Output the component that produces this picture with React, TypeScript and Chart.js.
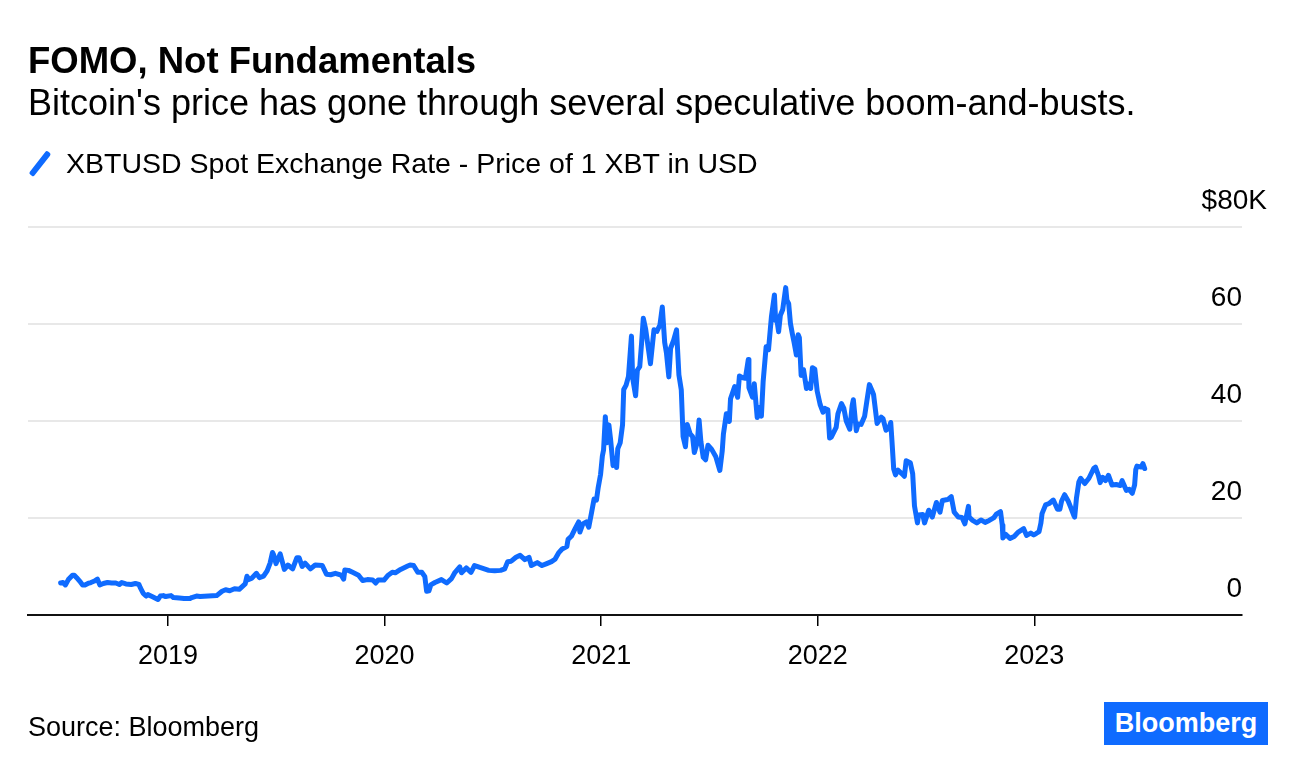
import React, { useEffect, useRef } from 'react';
import { Chart, registerables } from 'chart.js';

Chart.register(...registerables);

// Price of 1 XBT in USD, thousands — [month-day, value]
const prices2018: [string, number][] = [
  ['07-04', 6.6], ['07-08', 6.7], ['07-12', 6.2], ['07-17', 7.3], ['07-24', 8.2], ['07-27', 8.2],
  ['07-31', 7.7], ['08-05', 7.0], ['08-10', 6.2], ['08-14', 6.2], ['08-19', 6.5], ['08-24', 6.7],
  ['08-30', 7.0], ['09-04', 7.4], ['09-08', 6.2], ['09-14', 6.5], ['09-21', 6.7], ['09-28', 6.6],
  ['10-05', 6.6], ['10-11', 6.3], ['10-15', 6.7], ['10-22', 6.4], ['10-31', 6.3], ['11-07', 6.5],
  ['11-13', 6.3], ['11-15', 5.7], ['11-20', 4.5], ['11-25', 3.9], ['11-28', 4.2], ['12-05', 3.8],
  ['12-10', 3.5], ['12-15', 3.2], ['12-19', 3.9], ['12-24', 4.0], ['12-28', 3.8],
];

const prices2019: [string, number][] = [
  ['01-06', 4.0], ['01-10', 3.6], ['01-20', 3.5], ['01-28', 3.4], ['02-07', 3.4], ['02-10', 3.6],
  ['02-18', 3.9], ['02-24', 3.8], ['03-10', 3.9], ['03-24', 4.0], ['04-02', 4.9], ['04-08', 5.2],
  ['04-15', 5.0], ['04-23', 5.4], ['05-01', 5.3], ['05-11', 6.4], ['05-14', 8.0], ['05-17', 7.3],
  ['05-22', 7.6], ['05-30', 8.6], ['06-04', 7.7], ['06-11', 8.0], ['06-17', 9.1], ['06-22', 10.7],
  ['06-26', 12.9], ['06-28', 12.4], ['07-02', 10.6], ['07-09', 12.6], ['07-16', 9.4], ['07-22', 10.3],
  ['07-30', 9.5], ['08-06', 11.8], ['08-10', 11.8], ['08-15', 10.0], ['08-20', 10.7], ['08-29', 9.5],
  ['09-06', 10.3], ['09-18', 10.2], ['09-25', 8.4], ['10-02', 8.3], ['10-10', 8.6], ['10-20', 8.2],
  ['10-24', 7.4], ['10-26', 9.3], ['11-01', 9.2], ['11-08', 8.8], ['11-18', 8.2], ['11-25', 7.1],
  ['12-03', 7.3], ['12-12', 7.2], ['12-17', 6.6], ['12-21', 7.2], ['12-31', 7.2],
];

const prices2020: [string, number][] = [
  ['01-07', 8.2], ['01-14', 8.8], ['01-19', 8.7], ['01-28', 9.4], ['02-09', 10.1], ['02-13', 10.3],
  ['02-19', 10.2], ['02-26', 8.8], ['03-04', 8.8], ['03-09', 7.9], ['03-12', 4.9], ['03-16', 5.0],
  ['03-19', 6.2], ['03-26', 6.7], ['04-06', 7.3], ['04-15', 6.6], ['04-23', 7.5], ['04-29', 8.8],
  ['05-07', 9.9], ['05-10', 8.7], ['05-18', 9.7], ['05-26', 8.8], ['06-01', 10.2], ['06-10', 9.8],
  ['06-25', 9.2], ['07-05', 9.1], ['07-15', 9.2], ['07-22', 9.5], ['07-27', 11.0], ['08-02', 11.1],
  ['08-10', 11.9], ['08-17', 12.3], ['08-25', 11.4], ['09-01', 11.9], ['09-05', 10.2], ['09-15', 10.8],
  ['09-23', 10.2], ['10-01', 10.6], ['10-09', 11.0], ['10-15', 11.5], ['10-21', 12.8], ['10-27', 13.6],
  ['11-04', 14.1], ['11-06', 15.6], ['11-12', 16.3], ['11-18', 17.8], ['11-24', 19.2], ['11-26', 17.1],
  ['12-01', 18.8], ['12-07', 19.2], ['12-11', 18.1], ['12-16', 21.3], ['12-20', 23.9], ['12-24', 23.7],
  ['12-27', 26.3], ['12-31', 29.0],
];

const prices2021: [string, number][] = [
  ['01-03', 32.8], ['01-05', 34.0], ['01-08', 40.9], ['01-11', 35.5], ['01-14', 39.2], ['01-17', 36.0],
  ['01-21', 30.8], ['01-26', 32.4], ['01-27', 30.4], ['01-29', 34.3], ['02-02', 35.5], ['02-06', 39.2],
  ['02-08', 46.5], ['02-12', 47.4], ['02-16', 49.2], ['02-21', 57.5], ['02-23', 48.9], ['02-28', 45.2],
  ['03-03', 50.5], ['03-07', 51.2], ['03-10', 55.9], ['03-13', 61.2], ['03-17', 58.9], ['03-22', 54.5],
  ['03-25', 51.8], ['03-31', 58.8], ['04-05', 58.5], ['04-10', 59.8], ['04-14', 63.5], ['04-18', 56.2],
  ['04-21', 54.0], ['04-25', 49.1], ['04-28', 55.0], ['05-03', 56.6], ['05-08', 58.8], ['05-12', 49.5],
  ['05-16', 46.4], ['05-19', 36.8], ['05-23', 34.7], ['05-26', 39.3], ['05-31', 37.3], ['06-04', 36.8],
  ['06-07', 33.5], ['06-12', 35.6], ['06-15', 40.2], ['06-18', 35.8], ['06-22', 32.5], ['06-26', 32.0],
  ['06-30', 35.0], ['07-06', 34.2], ['07-13', 32.7], ['07-20', 29.8], ['07-24', 33.8], ['07-26', 37.3],
  ['07-31', 41.5], ['08-05', 39.9], ['08-07', 44.6], ['08-14', 47.1], ['08-19', 44.9], ['08-22', 49.3],
  ['08-28', 48.9], ['09-01', 48.8], ['09-06', 52.7], ['09-07', 46.9], ['09-13', 44.9], ['09-16', 47.7],
  ['09-21', 40.7], ['09-24', 42.8], ['09-28', 41.0], ['10-01', 48.2], ['10-06', 55.3], ['10-10', 54.7],
  ['10-15', 61.6], ['10-20', 66.0], ['10-22', 60.7], ['10-24', 61.0], ['10-27', 58.4], ['10-30', 61.8],
  ['11-03', 63.0], ['11-08', 67.5], ['11-10', 64.9], ['11-13', 64.2], ['11-16', 60.1], ['11-19', 58.1],
  ['11-22', 56.3], ['11-26', 53.6], ['11-29', 57.8], ['12-01', 57.2], ['12-04', 49.4], ['12-08', 50.6],
  ['12-13', 46.7], ['12-16', 47.6], ['12-20', 46.7], ['12-23', 51.0], ['12-27', 50.7], ['12-31', 46.2],
];

const prices2022: [string, number][] = [
  ['01-05', 43.4], ['01-10', 41.8], ['01-13', 42.6], ['01-18', 42.3], ['01-21', 36.5], ['01-24', 36.7],
  ['01-28', 37.7], ['02-01', 38.7], ['02-04', 41.5], ['02-10', 43.6], ['02-14', 42.6], ['02-18', 40.0],
  ['02-24', 38.3], ['02-28', 43.2], ['03-02', 44.4], ['03-07', 38.0], ['03-10', 39.4], ['03-15', 39.3],
  ['03-21', 41.0], ['03-25', 44.3], ['03-29', 47.5], ['04-02', 46.4], ['04-05', 45.5], ['04-11', 39.5],
  ['04-18', 40.8], ['04-21', 40.5], ['04-26', 38.1], ['05-01', 38.5], ['05-04', 39.7], ['05-06', 36.0],
  ['05-09', 30.1], ['05-12', 28.9], ['05-16', 29.9], ['05-23', 29.1], ['05-27', 28.6], ['05-30', 31.8],
  ['06-06', 31.4], ['06-10', 29.1], ['06-13', 22.5], ['06-18', 19.0], ['06-20', 20.6], ['06-27', 20.7],
  ['06-30', 19.0], ['07-07', 21.6], ['07-13', 20.2], ['07-20', 23.2], ['07-26', 21.2], ['07-30', 23.6],
  ['08-08', 23.8], ['08-14', 24.4], ['08-19', 21.2], ['08-26', 20.2], ['09-01', 20.1], ['09-06', 18.8],
  ['09-12', 22.4], ['09-13', 20.2], ['09-19', 19.5], ['09-26', 19.0], ['10-03', 19.6], ['10-10', 19.1],
  ['10-17', 19.5], ['10-25', 20.1], ['10-29', 20.8], ['11-05', 21.3], ['11-08', 18.5], ['11-09', 15.9],
  ['11-14', 16.6], ['11-21', 15.8], ['11-28', 16.2], ['12-05', 17.1], ['12-14', 17.8], ['12-19', 16.4],
  ['12-26', 16.9], ['12-31', 16.5],
];

const prices2023: [string, number][] = [
  ['01-04', 16.8], ['01-09', 17.2], ['01-12', 18.9], ['01-14', 20.9], ['01-20', 22.7], ['01-26', 23.0],
  ['02-02', 23.7], ['02-09', 21.8], ['02-13', 21.8], ['02-16', 23.5], ['02-21', 24.8], ['02-27', 23.5],
  ['03-03', 22.3], ['03-09', 20.4], ['03-10', 20.2], ['03-13', 24.1], ['03-17', 27.4], ['03-20', 28.2],
  ['03-27', 27.1], ['04-03', 28.2], ['04-11', 30.2], ['04-14', 30.5], ['04-19', 28.8], ['04-22', 27.3],
  ['04-26', 28.4], ['05-01', 27.7], ['05-06', 28.8], ['05-12', 26.8], ['05-19', 26.9], ['05-26', 26.7],
  ['05-29', 27.7], ['06-05', 25.7], ['06-10', 25.9], ['06-15', 25.1], ['06-19', 26.8], ['06-21', 30.0],
  ['06-23', 30.7], ['06-30', 30.5], ['07-03', 31.2], ['07-06', 30.2],
];

const years = [2018, 2019, 2020, 2021, 2022, 2023];
const seriesByYear = [prices2018, prices2019, prices2020, prices2021, prices2022, prices2023];

const xTicks = [2019, 2020, 2021, 2022, 2023];
const yTicks = [0, 20, 40, 60, 80];
const yTickLabels = ['0', '20', '40', '60', '$80K'];
const xRangeStart = '2018-05-10';
const xRangeEnd = '2023-12-17';

const TITLE = 'FOMO, Not Fundamentals';
const SUBTITLE = "Bitcoin's price has gone through several speculative boom-and-busts.";
const LEGEND = 'XBTUSD Spot Exchange Rate - Price of 1 XBT in USD';
const SOURCE = 'Source: Bloomberg';

const BLUE = '#0f6bff';
const FONT = "'Liberation Sans', Arial, Helvetica, sans-serif";

function toYear(iso: string): number {
  const [y, m, d] = iso.split('-').map(Number);
  const t = Date.UTC(y, m - 1, d);
  const a = Date.UTC(y, 0, 1);
  const b = Date.UTC(y + 1, 0, 1);
  return y + (t - a) / (b - a);
}

const topTick = yTicks[yTicks.length - 1];

export default function App() {
  const ref = useRef<HTMLCanvasElement | null>(null);

  useEffect(() => {
    if (!ref.current) return;
    const points: { x: number; y: number }[] = [];
    seriesByYear.forEach((rows, i) => {
      rows.forEach(([md, v]) => points.push({ x: toYear(`${years[i]}-${md}`), y: v }));
    });

    const labelFor = (v: any) => {
      const i = yTicks.indexOf(Number(v));
      return i >= 0 ? yTickLabels[i] : '';
    };

    const chart = new Chart(ref.current, {
      type: 'line',
      data: {
        datasets: [
          {
            label: LEGEND,
            data: points,
            borderColor: BLUE,
            borderWidth: 5,
            pointRadius: 0,
            tension: 0,
            borderJoinStyle: 'round',
            borderCapStyle: 'round',
            fill: false,
            yAxisID: 'y',
          },
        ],
      },
      options: {
        animation: false,
        responsive: false,
        maintainAspectRatio: false,
        layout: { padding: { left: 28, right: 54, top: 227, bottom: 95 } },
        plugins: {
          legend: { display: false },
          tooltip: { enabled: false },
        },
        scales: {
          x: {
            type: 'linear',
            min: toYear(xRangeStart),
            max: toYear(xRangeEnd),
            afterBuildTicks: (s: any) => {
              s.ticks = xTicks.map((v) => ({ value: v }));
            },
            afterFit: (s: any) => {
              s.height = 60;
            },
            grid: {
              drawOnChartArea: false,
              drawTicks: true,
              tickLength: 11,
              color: '#000',
              lineWidth: 1.5,
            },
            border: { display: true, color: '#111', width: 2 },
            ticks: {
              color: '#000',
              padding: 14,
              maxRotation: 0,
              autoSkip: false,
              font: { family: FONT, size: 27 },
              callback: (v: any) => String(v),
            },
          },
          y: {
            position: 'right',
            min: 0,
            max: 80,
            afterBuildTicks: (s: any) => {
              s.ticks = yTicks.map((v) => ({ value: v }));
            },
            afterFit: (s: any) => {
              s.width = 0;
            },
            grid: { color: '#e8e8e8', lineWidth: 2, drawTicks: false },
            border: { display: false },
            ticks: {
              mirror: true,
              padding: 0,
              labelOffset: -26,
              color: '#000',
              autoSkip: false,
              font: { family: FONT, size: 28 },
              callback: (v: any) => (Number(v) === topTick ? '' : labelFor(v)),
            },
          },
          yTop: {
            position: 'right',
            min: 0,
            max: 80,
            afterBuildTicks: (s: any) => {
              s.ticks = [{ value: topTick }];
            },
            afterFit: (s: any) => {
              s.width = 0;
            },
            grid: { display: false, drawTicks: false },
            border: { display: false },
            ticks: {
              mirror: true,
              padding: 25,
              labelOffset: -26,
              color: '#000',
              autoSkip: false,
              font: { family: FONT, size: 28 },
              callback: (v: any) => labelFor(v),
            },
          },
        },
      },
    });
    return () => chart.destroy();
  }, []);

  const abs = (o: React.CSSProperties): React.CSSProperties => ({
    position: 'absolute',
    margin: 0,
    whiteSpace: 'nowrap',
    lineHeight: 1,
    fontFamily: FONT,
    color: '#000',
    ...o,
  });

  return (
    <div style={{ position: 'absolute', left: 0, top: 0, width: 1296, height: 770, background: '#fff', overflow: 'hidden' }}>
      <canvas ref={ref} width={1296} height={770} style={{ position: 'absolute', left: 0, top: 0, width: 1296, height: 770 }} />
      <div style={abs({ left: 28, top: 42.5, fontSize: 36.5, fontWeight: 700 })}>{TITLE}</div>
      <div style={abs({ left: 28, top: 84.5, fontSize: 36 })}>{SUBTITLE}</div>
      <div
        style={{
          position: 'absolute',
          left: 37,
          top: 149,
          width: 5.5,
          height: 29,
          background: BLUE,
          borderRadius: 2,
          transform: 'rotate(38deg)',
        }}
      />
      <div style={abs({ left: 66, top: 149, fontSize: 28.5 })}>{LEGEND}</div>
      <div style={abs({ left: 28, top: 714, fontSize: 27 })}>{SOURCE}</div>
      <div
        style={abs({
          left: 1104,
          top: 702,
          width: 164,
          height: 43,
          lineHeight: '43px',
          background: BLUE,
          color: '#fff',
          fontWeight: 700,
          fontSize: 27,
          textAlign: 'center',
        })}
      >
        Bloomberg
      </div>
    </div>
  );
}
